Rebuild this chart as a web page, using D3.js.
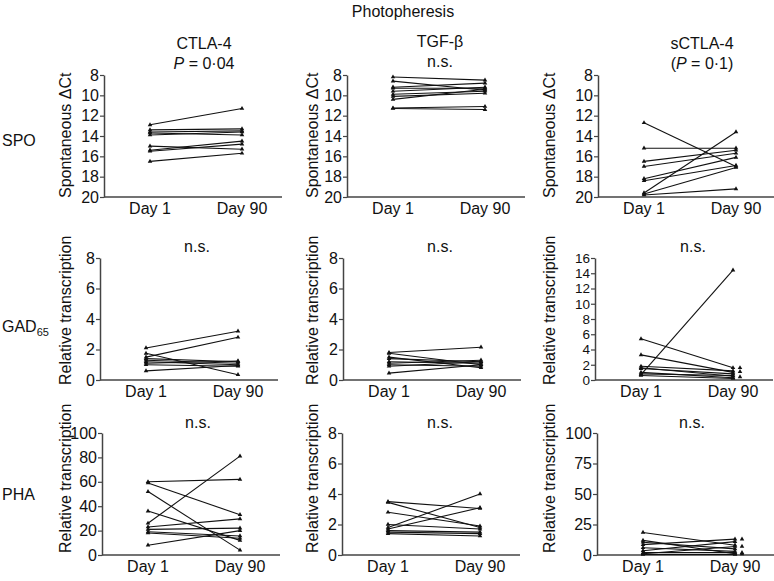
<!DOCTYPE html>
<html>
<head>
<meta charset="utf-8">
<script src="https://cdn.jsdelivr.net/npm/d3@7"></script>
<style>
  body { margin: 0; background: #fff; }
  svg text { font-family: "Liberation Sans", Arial, Helvetica, sans-serif; fill: #111; }
</style>
</head>
<body>
<svg id="chart" width="774" height="581"></svg>
<script>
// categories on the x axis
const days = ["Day 1", "Day 90"];

// paired values [Day 1, Day 90], one pair per patient
const spoCtla4 = [[12.9, 11.3], [13.4, 13.3], [13.6, 13.5], [13.7, 13.9], [13.9, 13.6],
                  [15.0, 15.3], [15.4, 14.5], [15.5, 14.8], [16.5, 15.7]];
const spoTgf = [[8.2, 8.5], [8.6, 9.5], [9.2, 8.8], [9.3, 9.3], [9.6, 9.2],
                [9.9, 9.6], [10.1, 9.8], [10.4, 9.4], [11.25, 11.1], [11.3, 11.4]];
const spoSctla4 = [[12.7, 17.0], [15.2, 15.2], [16.5, 15.4], [17.0, 15.7], [18.2, 16.1],
                   [18.4, 16.9], [19.6, 13.6], [19.7, 17.1], [19.8, 19.2]];

const gadCtla4 = [[2.1, 3.2], [1.5, 2.8], [1.75, 0.35], [1.4, 1.2], [1.3, 1.1],
                  [1.2, 1.0], [1.1, 1.25], [1.0, 0.9], [0.6, 0.95]];
const gadTgf = [[1.8, 2.15], [1.75, 1.0], [1.5, 0.8], [1.4, 1.2], [1.2, 1.1],
                [1.1, 1.3], [1.0, 0.9], [0.9, 1.2], [0.45, 1.0]];
const gadSctla4 = [[0.7, 14.4], [5.4, 1.6], [3.3, 1.0], [1.8, 1.2], [1.6, 0.5],
                   [1.5, 0.8], [1.0, 0.3], [0.8, 0.6], [0.6, 0.2]];
const gadSctla4Extra = [1.6, 1.1, 0.4];

const phaCtla4 = [[60, 62], [59, 33], [52, 4], [36, 12], [26, 81],
                  [23, 29.6], [21, 22], [19, 15.6], [18, 13.7], [8, 20]];
const phaTgf = [[3.5, 3.05], [3.45, 1.8], [2.8, 1.9], [2.0, 1.7], [1.8, 4.0],
                [1.7, 3.1], [1.6, 1.5], [1.5, 1.4], [1.4, 1.25]];
const phaSctla4 = [[18.5, 8], [12, 1], [10.5, 5], [8.5, 13], [6, 3],
                   [3.5, 11], [2, 2], [1, 7], [0.5, 0.5]];
const phaSctla4Extra = [13, 7, 2, 0.8];

// y tick values
const ticksSpo = [8, 10, 12, 14, 16, 18, 20];
const ticks8 = [0, 2, 4, 6, 8];
const ticks16 = [0, 2, 4, 6, 8, 10, 12, 14, 16];
const ticks100 = [0, 20, 40, 60, 80, 100];
const ticks100q = [0, 25, 50, 75, 100];

// labels
const colNames = ["CTLA-4", "TGF-\u03b2", "sCTLA-4"];
const topSig = ["P = 0\u00b704", "n.s.", "(P = 0\u00b71)"];
const yLabels = ["Spontaneous \u0394Ct", "Relative transcription", "Relative transcription"];

// layout
const rowTop = [75, 258, 433];
const rowBot = [197, 380, 555];
const labelBot = [198, 385, 553];
const axisX = [[104, 347, 598], [100, 343, 595], [102, 342, 597]];
const colLabelX = [71, 318, 555];
const sigX = [[204, 440, 702], [197, 440, 693], [198, 440, 692]];
const sigY = [[69, 67, 69], [252, 252, 252], [428, 428, 428]];
const headY = [49, 47, 49];

const panels = [
  { row: 0, col: 0, data: spoCtla4, ticks: ticksSpo, domain: [8, 20] },
  { row: 0, col: 1, data: spoTgf, ticks: ticksSpo, domain: [8, 20] },
  { row: 0, col: 2, data: spoSctla4, ticks: ticksSpo, domain: [8, 20] },
  { row: 1, col: 0, data: gadCtla4, ticks: ticks8, domain: [8, 0] },
  { row: 1, col: 1, data: gadTgf, ticks: ticks8, domain: [8, 0] },
  { row: 1, col: 2, data: gadSctla4, ticks: ticks16, domain: [16, 0], extra: gadSctla4Extra, tickFont: 13.5 },
  { row: 2, col: 0, data: phaCtla4, ticks: ticks100, domain: [100, 0] },
  { row: 2, col: 1, data: phaTgf, ticks: ticks8, domain: [8, 0] },
  { row: 2, col: 2, data: phaSctla4, ticks: ticks100q, domain: [100, 0], extra: phaSctla4Extra }
];

const svg = d3.select("#chart");
const ink = "#111";
const axisInk = "#444";
const tri = d3.symbol().type(d3.symbolTriangle).size(9);

// overall title and column headers
svg.append("text").attr("x", 403).attr("y", 17).attr("text-anchor", "middle")
  .style("font-size", "16px").text("Photopheresis");

colNames.forEach((n, i) => {
  svg.append("text").attr("x", sigX[0][i]).attr("y", headY[i]).attr("text-anchor", "middle")
    .style("font-size", "16px").text(n);
});

// significance labels, italic P where present
function sigText(x, y, s) {
  const t = svg.append("text").attr("x", x).attr("y", y).attr("text-anchor", "middle")
    .style("font-size", "16px");
  const k = s.indexOf("P");
  if (k < 0) { t.text(s); return; }
  if (k > 0) t.append("tspan").text(s.slice(0, k));
  t.append("tspan").style("font-style", "italic").text("P");
  t.append("tspan").text(s.slice(k + 1));
}

// row labels
svg.append("text").attr("x", 2).attr("y", 146).style("font-size", "16px").text("SPO");
const gad = svg.append("text").attr("x", 2).attr("y", 332).style("font-size", "16px");
gad.append("tspan").text("GAD");
gad.append("tspan").attr("dy", 4).style("font-size", "11px").text("65");
svg.append("text").attr("x", 2).attr("y", 500).style("font-size", "16px").text("PHA");

panels.forEach(p => {
  const ax = axisX[p.row][p.col];
  const top = rowTop[p.row], bot = rowBot[p.row];

  const x = d3.scalePoint().domain(days).range([ax + 46, ax + 138]);
  const y = d3.scaleLinear().domain(p.domain).range([top, bot]);

  const g = svg.append("g");

  // y axis
  const yAxis = g.append("g").attr("transform", `translate(${ax},0)`)
    .call(d3.axisLeft(y).tickValues(p.ticks).tickSize(4).tickSizeOuter(0).tickPadding(1));
  yAxis.select(".domain").attr("stroke", axisInk).attr("stroke-width", 1.5);
  yAxis.selectAll(".tick line").attr("stroke", axisInk).attr("stroke-width", 1.2);
  yAxis.selectAll(".tick text").attr("fill", ink).style("font-size", (p.tickFont || 16) + "px")
    .style("font-family", '"Liberation Sans", Arial, sans-serif');

  // x axis baseline and day labels
  g.append("line").attr("x1", ax).attr("x2", ax + 178).attr("y1", bot).attr("y2", bot)
    .attr("stroke", axisInk).attr("stroke-width", 1.5);
  g.selectAll("text.day").data(days).enter().append("text").attr("class", "day")
    .attr("x", d => x(d)).attr("y", bot + 17).attr("text-anchor", "middle")
    .style("font-size", "16px").text(d => d);

  // y label
  const lx = colLabelX[p.col], ly = labelBot[p.row];
  g.append("text").attr("transform", `translate(${lx},${ly}) rotate(-90)`)
    .style("font-size", "16px").text(yLabels[p.row]);

  // paired lines
  g.selectAll("line.pair").data(p.data).enter().append("line").attr("class", "pair")
    .attr("x1", x(days[0])).attr("x2", x(days[1]))
    .attr("y1", d => y(d[0])).attr("y2", d => y(d[1]))
    .attr("stroke", ink).attr("stroke-width", 1.1);

  // markers
  p.data.forEach(d => {
    days.forEach((day, i) => {
      g.append("path").attr("d", tri).attr("fill", ink)
        .attr("transform", `translate(${x(day)},${y(d[i])})`);
    });
  });
  if (p.extra) {
    g.selectAll("path.extra").data(p.extra).enter().append("path").attr("class", "extra")
      .attr("d", tri).attr("fill", ink)
      .attr("transform", d => `translate(${x(days[1]) + 7},${y(d)})`);
  }

  sigText(sigX[p.row][p.col], sigY[p.row][p.col], p.row === 0 ? topSig[p.col] : "n.s.");
});
</script>
</body>
</html>
